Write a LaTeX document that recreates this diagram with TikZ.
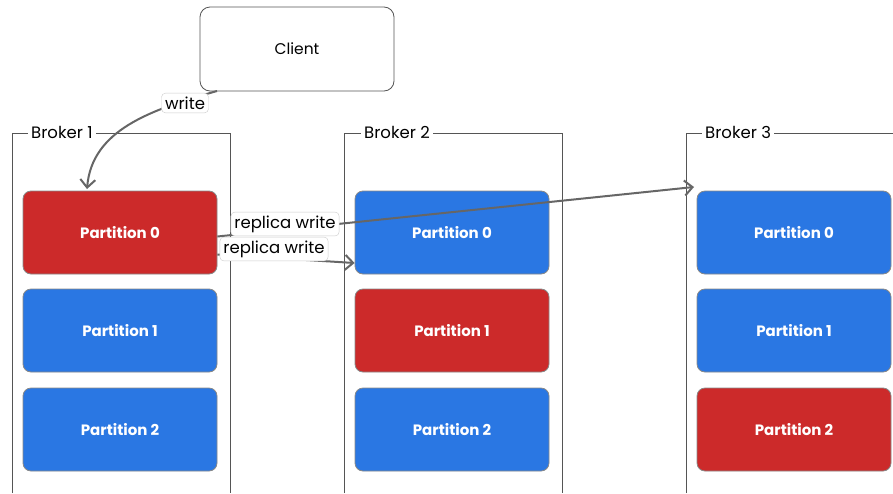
\documentclass[tikz,border=0pt]{standalone}
\usepackage{fontspec}
\setmainfont{Poppins}
\usetikzlibrary{arrows.meta}
\definecolor{predr}{HTML}{CC2A2A}
\definecolor{pblue}{HTML}{2A77E3}
\definecolor{edge}{HTML}{666666}
\definecolor{frame}{HTML}{555555}
\begin{document}
\begin{tikzpicture}[x=1pt,y=-1pt,
  part/.style={draw=frame!70,line width=0.8pt,rounded corners=8pt,minimum width=194pt,minimum height=83pt,text=white,font=\fontsize{15}{17}\selectfont\bfseries},
  redp/.style={part,fill=predr},
  bluep/.style={part,fill=pblue},
  frameline/.style={draw=frame,line width=1pt},
  blabel/.style={fill=white,inner sep=3pt,font=\fontsize{16.5}{18}\selectfont},
  elabel/.style={fill=white,draw=black!20,rounded corners=4pt,inner xsep=3.5pt,inner ysep=3.5pt,font=\fontsize{16.5}{18}\selectfont},
  conn/.style={draw=edge,line width=2pt,-{Straight Barb[length=8pt,width=15pt,line width=2pt]}}
]
\useasboundingbox[fill=white] (0,0) rectangle (893,493);
% client
\node[draw=frame,line width=0.8pt,rounded corners=10pt,minimum width=194pt,minimum height=84pt,font=\fontsize{15.5}{17}\selectfont] (client) at (297,49) {Client};
% broker frames
\draw[frameline] (12,493) -- (12,133) -- (230,133) -- (230,493);
\draw[frameline] (344,493) -- (344,133) -- (562,133) -- (562,493);
\draw[frameline] (686,493) -- (686,133) -- (893,133);
\node[blabel,anchor=west] (b1) at (28,132) {Broker 1};
\node[blabel,anchor=west] (b2) at (361,132) {Broker 2};
\node[blabel,anchor=west] (b3) at (702,132) {Broker 3};
% partitions
\node[redp] (p10) at (120,232.5) {Partition 0};
\node[bluep] (p11) at (120,330.5) {Partition 1};
\node[bluep] (p12) at (120,429.5) {Partition 2};
\node[bluep] (p20) at (452,232.5) {Partition 0};
\node[redp] (p21) at (452,330.5) {Partition 1};
\node[bluep] (p22) at (452,429.5) {Partition 2};
\node[bluep] (p30) at (794,232.5) {Partition 0};
\node[bluep] (p31) at (794,330.5) {Partition 1};
\node[redp] (p32) at (794,429.5) {Partition 2};
% write arrow
\coordinate (ws) at (217,91);
\coordinate (wt) at (87,189);
\draw[conn] (ws) .. controls (150,110) and (92,130) .. (wt);
\node[elabel] (wl) at (185,103) {write};
% replica writes
\coordinate (r1s) at ([yshift=-4pt]p10.east);
\coordinate (r1t) at (694,187);
\draw[conn] (r1s) -- (r1t);
\node[elabel] (rl1) at (285,224) {replica write};
\coordinate (r2s) at ([yshift=-22pt]p10.east);
\coordinate (r2t) at ([yshift=-30.5pt]p20.west);
\draw[conn] (r2s) -- (r2t);
\node[elabel] (rl2) at (274,249) {replica write};
\end{tikzpicture}
\end{document}
